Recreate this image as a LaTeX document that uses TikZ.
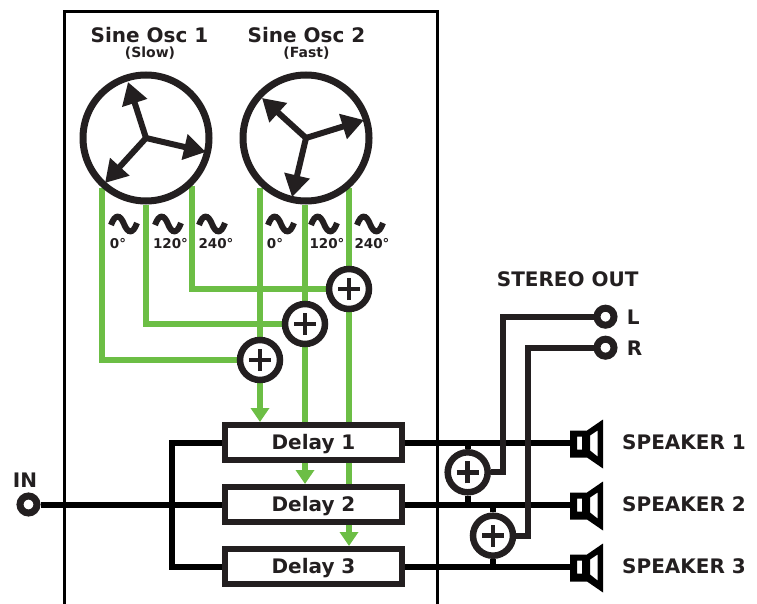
\documentclass[tikz,border=0pt]{standalone}
\usepackage{fontspec}
\setmainfont{DejaVu Sans}
\usepackage{tikz}
\usetikzlibrary{arrows.meta, backgrounds, calc}
\definecolor{ink}{HTML}{231F20}
\definecolor{sig}{HTML}{6CBE45}
\def\lw{6pt}
\tikzset{
	x=1pt, y=-1pt,
	wire/.style={draw=black, line width=\lw},
	inkwire/.style={draw=ink, line width=\lw},
	lfo/.style={draw=sig, line width=\lw},
	lfoarrow/.style={lfo, -{Triangle[length=14pt,width=18pt]}},
	hand/.style={draw=ink, line width=6pt, -{Triangle[length=22pt,width=25pt]}},
	osc/.style={circle, draw=ink, fill=white, line width=7pt, minimum size=126pt, inner sep=0pt},
	adder/.style={circle, draw=ink, fill=white, line width=6.5pt, minimum size=40pt, inner sep=0pt,
		path picture={
			\draw[ink, line width=4.5pt]
				([xshift=-11pt]path picture bounding box.center) -- ([xshift=11pt]path picture bounding box.center)
				([yshift=-11pt]path picture bounding box.center) -- ([yshift=11pt]path picture bounding box.center);
		}},
	jack/.style={circle, draw=ink, fill=white, line width=7pt, minimum size=17pt, inner sep=0pt},
	delaybox/.style={draw=ink, fill=white, line width=6pt, minimum width=177pt, minimum height=35pt, inner sep=0pt,
		text=ink, text height=14pt, text depth=0pt, font=\bfseries\fontsize{20}{20}\selectfont},
	lbl/.style={inner sep=0pt, text=ink, font=\bfseries\fontsize{20}{20}\selectfont},
	deg/.style={inner sep=0pt, text=ink, font=\bfseries\fontsize{13.5}{13.5}\selectfont},
	title/.style={inner sep=0pt, text=ink, font=\bfseries\fontsize{20}{20}\selectfont},
	subtitle/.style={inner sep=0pt, text=ink, font=\bfseries\fontsize{14}{14}\selectfont},
}
\def\sinewave{(-13,1) .. controls (-9,-10) and (-4,-10) .. (0,0) .. controls (4,10) and (9,10) .. (13,-1)}
\def\spk{(0,-12) -- (17,-12) -- (33,-23) -- (33,26) -- (17,15) -- (0,15) -- cycle
	(7,-6) -- (7,7) -- (12,7) -- (12,-6) -- cycle
	(20,-7) -- (20,8) -- (27.5,14) -- (27.5,-12) -- cycle}
\begin{document}
\begin{tikzpicture}
\useasboundingbox (0,0) rectangle (757,604);

% frame
\coordinate (FL) at (64,604);
\coordinate (FTL) at (64,11.5);
\coordinate (FTR) at (437,11.5);
\coordinate (FR) at (437,604);
\draw[black, line width=3pt] (FL) -- (FTL) -- (FTR) -- (FR);

% oscillators
\node[osc] (O1) at (146,138) {};
\node[osc] (O2) at (306,138) {};
\node[title] (T1) at (149.5,35) {Sine Osc 1};
\node[title] (T2) at (306.5,35) {Sine Osc 2};
\node[subtitle] (U1) at (150,53.5) {(Slow)};
\node[subtitle] (U2) at (306.5,53.5) {(Fast)};

\coordinate (H1) at (128,82);
\coordinate (H2) at (206,152);
\coordinate (H3) at (105,183);
\coordinate (H4) at (262,98);
\coordinate (H5) at (364,120);
\coordinate (H6) at (292,197);
\foreach \x in {H1, H2, H3}{
	\draw[hand] (O1.center) -- (\x);
}
\foreach \x in {H4, H5, H6}{
	\draw[hand] (O2.center) -- (\x);
}

% adders and delays
\node[adder] (A3) at (349,289) {};
\node[adder] (A2) at (305,324) {};
\node[adder] (A1) at (260,360) {};
\node[adder] (A4) at (467.7,472.3) {};
\node[adder] (A5) at (493,535.7) {};
\node[delaybox] (D1) at (313.5,442.5) {Delay 1};
\node[delaybox] (D2) at (313.5,504.5) {Delay 2};
\node[delaybox] (D3) at (313.5,566.5) {Delay 3};

% jacks
\node[jack] (IN) at (28.5,504.5) {};
\node[jack] (JL) at (605.5,316.7) {};
\node[jack] (JR) at (605.5,347.7) {};
\node[lbl] (INL) at (25,480.5) {IN};
\node[lbl] (ST) at (567.7,279) {STEREO OUT};
\node[lbl, anchor=west] (LL) at (626.7,317) {L};
\node[lbl, anchor=west] (RL) at (626.7,348.5) {R};

% speakers
\coordinate (S1) at (570,442.5);
\coordinate (S2) at (570,504.5);
\coordinate (S3) at (570,566.5);
\foreach \n in {1,2,3}{
	\fill[black, even odd rule, shift={(S\n)}] \spk;
	\node[lbl, anchor=west] (SL\n) at ($(S\n)+(52,0)$) {SPEAKER \n};
}

% sine marks
\foreach \x in {124, 168, 212, 281, 324, 370}{
	\draw[ink, line width=6pt, shift={(\x,224)}] \sinewave;
}
\node[deg] (P1) at (118,244) {0°};
\node[deg] (P2) at (170.5,244) {120°};
\node[deg] (P3) at (216,244) {240°};
\node[deg] (P4) at (275,244) {0°};
\node[deg] (P5) at (327,244) {120°};
\node[deg] (P6) at (372,244) {240°};

\begin{scope}[on background layer]
% green
\draw[lfo] (O1.229) |- (A1.west);
\draw[lfo] (O1.270) |- (A2.west);
\draw[lfo] (O1.314) |- (A3.west);
\draw[lfo] (A1 |- O2.229) -- (A1.north);
\draw[lfo] (A2 |- O2.south) -- (A2.north);
\draw[lfo] (A3 |- O2.311) -- (A3.north);
\draw[lfoarrow] (A1.south) -- (A1 |- D1.north);
\draw[lfo] (A2.south) -- (A2 |- D1.north);
\draw[lfoarrow] (A2 |- D1.south) -- (A2 |- D2.north);
\draw[lfoarrow] (A3.south) -- (A3 |- D3.north);

% audio
\coordinate (B) at (172,504.5);
\coordinate (L1) at (503.3,472.3);
\coordinate (R1) at (528.3,535.7);
\draw[wire] (IN.east) -- (D2.west);
\draw[wire] (D1.west) -| (B) |- (D3.west);
\foreach \n in {1,2,3}{
	\draw[wire] (D\n.east) -- (S\n);
}
\draw[inkwire] (A4.east) -- (L1) |- (JL.west);
\draw[inkwire] (A5.east) -- (R1) |- (JR.west);
\draw[wire] (A4.north) -- (A4 |- S1);
\draw[wire] (A4.south) -- (A4 |- S2);
\draw[wire] (A5.north) -- (A5 |- S2);
\draw[wire] (A5.south) -- (A5 |- S3);
\end{scope}
\end{tikzpicture}
\end{document}
